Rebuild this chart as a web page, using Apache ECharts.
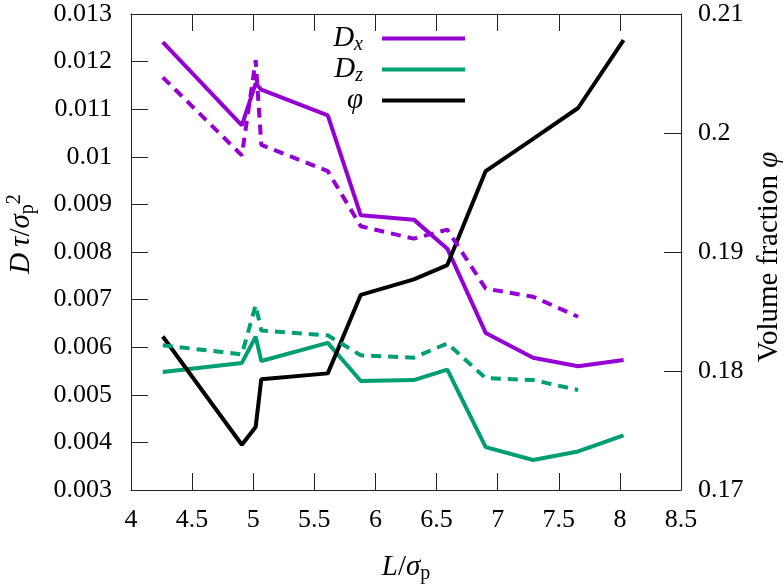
<!DOCTYPE html>
<html>
<head>
<meta charset="utf-8">
<script src="https://cdn.jsdelivr.net/npm/echarts@6/dist/echarts.min.js"></script>
<style>
html, body { margin: 0; padding: 0; background: #fff; }
#chart { width: 784px; height: 584px; }
</style>
</head>
<body>
<div id="chart"></div>
<script>
// box size L/sigma_p
var boxL = [4.26, 4.907, 5.02, 5.066, 5.61, 5.88, 6.314, 6.588, 6.902, 7.29, 7.658, 8.03];
// solid lines
var dxSolid = [0.01241, 0.01066, 0.01154, 0.01141, 0.01087, 0.00877, 0.00868, 0.00807, 0.0063, 0.00578, 0.0056, 0.00573];
var dzSolid = [0.00548, 0.00567, 0.00622, 0.00571, 0.00609, 0.00529, 0.00531, 0.00553, 0.0039, 0.00363, 0.00381, 0.00415];
// dashed lines (stop at 7.66)
var dxDashed = [0.01167, 0.01003, 0.01203, 0.01025, 0.0097, 0.00854, 0.00828, 0.00847, 0.00723, 0.00706, 0.00664];
var dzDashed = [0.00604, 0.00585, 0.00688, 0.00635, 0.00625, 0.00583, 0.00578, 0.00608, 0.00535, 0.00531, 0.0051];
// volume fraction (right axis)
var phi = [0.1829, 0.1738, 0.1753, 0.1793, 0.1798, 0.1864, 0.1877, 0.1889, 0.1968, 0.1995, 0.2021, 0.2078];

var purple = '#9400d3';
var green = '#009e73';
var serif = 'Liberation Serif';

function pairs(ys) {
    var out = [];
    for (var i = 0; i < ys.length; i++) {
        out.push([boxL[i], ys[i]]);
    }
    return out;
}

function makeRich(big, small, shift) {
    return {
        i: {fontFamily: serif, fontStyle: 'italic', fontSize: big, color: '#000', verticalAlign: 'middle'},
        n: {fontFamily: serif, fontSize: big, color: '#000', verticalAlign: 'middle'},
        sub: {fontFamily: serif, fontSize: small, color: '#000', padding: [shift, 0, 0, 0], verticalAlign: 'middle'},
        isub: {fontFamily: serif, fontStyle: 'italic', fontSize: small, color: '#000', padding: [shift, 0, 0, 0], verticalAlign: 'middle'},
        sup: {fontFamily: serif, fontSize: small, color: '#000', padding: [0, 0, shift, 0], verticalAlign: 'middle'}
    };
}
var legendRich = makeRich(29, 20, 12);
var titleRich = makeRich(29, 20, 13);

var legendText = {
    'Dx': '{i|D}{isub|x}',
    'Dz': '{i|D}{isub|z}',
    'phi': '{i|φ}'
};

function makeLegend(name, top) {
    return {
        data: [name],
        orient: 'vertical',
        right: 319,
        top: top,
        padding: 0,
        align: 'right',
        icon: 'rect',
        itemWidth: 83,
        itemHeight: 4,
        selectedMode: false,
        formatter: function (n) { return legendText[n]; },
        textStyle: {color: '#000', padding: [0, 14, 0, 0], rich: legendRich}
    };
}

var axisLineStyle = {color: '#222', width: 1};

var chart = echarts.init(document.getElementById('chart'));
var option = {
    animation: false,
    backgroundColor: '#fff',
    grid: {left: 131, right: 103, top: 14, bottom: 94, outerBoundsMode: 'none', containLabel: false},
    legend: [makeLegend('Dx', 24), makeLegend('Dz', 55), makeLegend('phi', 86)],
    xAxis: [{
        type: 'value',
        min: 4, max: 8.5, interval: 0.5,
        position: 'bottom',
        axisLine: {show: true, lineStyle: axisLineStyle},
        axisTick: {show: true, inside: true, length: 17, lineStyle: axisLineStyle},
        splitLine: {show: false},
        axisLabel: {margin: 17, showMinLabel: true, showMaxLabel: true,
            fontFamily: serif, fontSize: 26, color: '#000'},
        name: '{i|L}{n|/}{i|σ}{sub|p}',
        nameLocation: 'middle',
        nameGap: 61,
        nameTextStyle: {rich: titleRich}
    }, {
        type: 'value',
        min: 4, max: 8.5, interval: 0.5,
        position: 'top',
        axisLine: {show: true, lineStyle: axisLineStyle},
        axisTick: {show: true, inside: true, length: 17, lineStyle: axisLineStyle},
        splitLine: {show: false},
        axisLabel: {show: false}
    }],
    yAxis: [{
        type: 'value',
        min: 0.003, max: 0.013, interval: 0.001,
        position: 'left',
        axisLine: {show: true, lineStyle: axisLineStyle},
        axisTick: {show: true, inside: true, length: 17, lineStyle: axisLineStyle},
        splitLine: {show: false},
        axisLabel: {margin: 19, showMinLabel: true, showMaxLabel: true,
            fontFamily: serif, fontSize: 26, color: '#000'},
        name: '{i|D\u2009τ}{n|/}{i|σ}{sub|p}{sup|2}',
        nameLocation: 'middle',
        nameRotate: 90,
        nameGap: 93,
        nameTextStyle: {rich: titleRich, padding: [0, 0, 0, 36]}
    }, {
        type: 'value',
        min: 0.17, max: 0.21, interval: 0.01,
        position: 'right',
        axisLine: {show: true, lineStyle: axisLineStyle},
        axisTick: {show: true, inside: true, length: 17, lineStyle: axisLineStyle},
        splitLine: {show: false},
        axisLabel: {margin: 17, showMinLabel: true, showMaxLabel: true,
            fontFamily: serif, fontSize: 26, color: '#000'},
        name: '{n|Volume fraction }{i|φ}',
        nameLocation: 'middle',
        nameRotate: 90,
        nameGap: 74,
        nameTextStyle: {rich: titleRich, padding: [0, 10, 0, 0]}
    }],
    series: [{
        name: 'Dx',
        type: 'line',
        data: pairs(dxSolid),
        showSymbol: false,
        itemStyle: {color: purple},
        lineStyle: {color: purple, width: 4}
    }, {
        name: 'Dz',
        type: 'line',
        data: pairs(dzSolid),
        showSymbol: false,
        itemStyle: {color: green},
        lineStyle: {color: green, width: 4}
    }, {
        name: 'phi',
        type: 'line',
        yAxisIndex: 1,
        data: pairs(phi),
        showSymbol: false,
        itemStyle: {color: '#000'},
        lineStyle: {color: '#000', width: 4}
    }, {
        name: 'Dx dashed',
        type: 'line',
        data: pairs(dxDashed),
        showSymbol: false,
        itemStyle: {color: purple},
        lineStyle: {color: purple, width: 4, type: [10, 7]}
    }, {
        name: 'Dz dashed',
        type: 'line',
        data: pairs(dzDashed),
        showSymbol: false,
        itemStyle: {color: green},
        lineStyle: {color: green, width: 4, type: [10, 7]}
    }]
};
chart.setOption(option);
</script>
</body>
</html>
